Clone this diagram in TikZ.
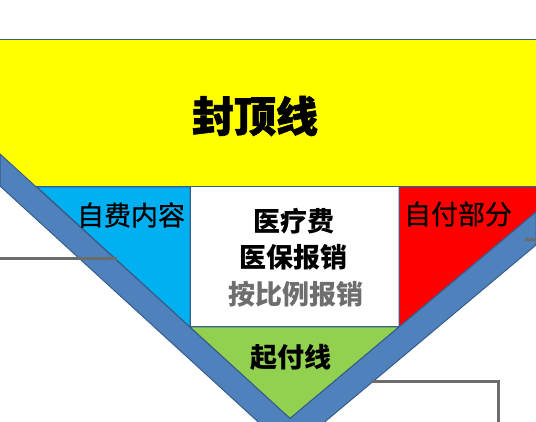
\documentclass[tikz,border=0pt]{standalone}
\usepackage{fontspec}
\newfontfamily\cjk{Noto Sans CJK SC}
\newfontfamily\cjkmed[FakeBold=0.8]{Noto Sans CJK SC}
\newfontfamily\cjkheavy[FakeBold=1.5]{Noto Sans CJK SC}
\definecolor{topyellow}{RGB}{255,255,0}
\definecolor{selfcyan}{RGB}{0,176,240}
\definecolor{selfred}{RGB}{255,0,0}
\definecolor{startgreen}{RGB}{146,208,80}
\definecolor{bandblue}{RGB}{79,129,189}
\definecolor{edgeblue}{RGB}{56,93,138}
\definecolor{linegray}{RGB}{108,108,108}
\definecolor{txtgray}{RGB}{110,110,110}
\begin{document}
\begin{tikzpicture}[x=1pt,y=-1pt,
  region/.style={draw=edgeblue,line width=1pt},
  lbl/.style={font=\cjk\bfseries\fontsize{27}{30}\selectfont,inner sep=0pt},
  lblreg/.style={font=\cjkmed\fontsize{27}{30}\selectfont,inner sep=0pt},
  conn/.style={draw=linegray,line width=3pt}]
\useasboundingbox (0,0) rectangle (536,422);
\fill[white] (0,0) rectangle (536,422);
\clip (0,0) rectangle (536,422);
% coordinates of the V
\coordinate (tl) at (37,187);
\coordinate (wbl) at (190,327);
\coordinate (wbr) at (399,327);
\coordinate (apex) at (290,418.5);
\coordinate (rin) at (536,212);
\coordinate (rout) at (536,245);
\coordinate (oapex) at (290,451);
\coordinate (lout) at (0,186);
\coordinate (lin) at (0,154);
% yellow cap band
\draw[region,fill=topyellow] (-5,40) rectangle (541,187);
% regions
\draw[region,fill=selfcyan] (tl) -- (190,187) -- (wbl) -- cycle;
\draw[region,fill=white] (190,187) rectangle (wbr);
\draw[region,fill=selfred] (399,187) -- (541,187) -- (541,212) -- (rin) -- (wbr) -- cycle;
\draw[region,fill=startgreen] (wbl) -- (wbr) -- (apex) -- cycle;
% V band
\draw[draw=edgeblue,line width=1pt,fill=bandblue]
  (lin) -- (apex) -- (rin) -- (rout) -- (oapex) -- (lout) -- cycle;
% connectors
\coordinate (c1a) at (0,259);
\coordinate (c1b) at (117,259);
\draw[conn] (c1a) -- (c1b);
\coordinate (c2a) at (372,381);
\coordinate (c2b) at (498,381);
\coordinate (c2c) at (498,430);
\draw[conn] (c2a) -- (c2b) -- (c2c);
\coordinate (c3a) at (525,240);
\coordinate (c3b) at (540,240);
\draw[conn] (c3a) -- (c3b);
% texts
\node[inner sep=0pt,font=\cjkheavy\bfseries\fontsize{42}{46}\selectfont] (cap) at (255,116) {封顶线};
\node[lblreg] (selfpay) at (131,215) {自费内容};
\node[lblreg] (selfpart) at (458,214) {自付部分};
\node[lbl] (fee) at (294,221) {医疗费};
\node[lbl] (insure) at (293,257) {医保报销};
\node[lbl,text=txtgray] (ratio) at (296,294) {按比例报销};
\node[lbl] (start) at (291,357) {起付线};
\end{tikzpicture}
\end{document}
